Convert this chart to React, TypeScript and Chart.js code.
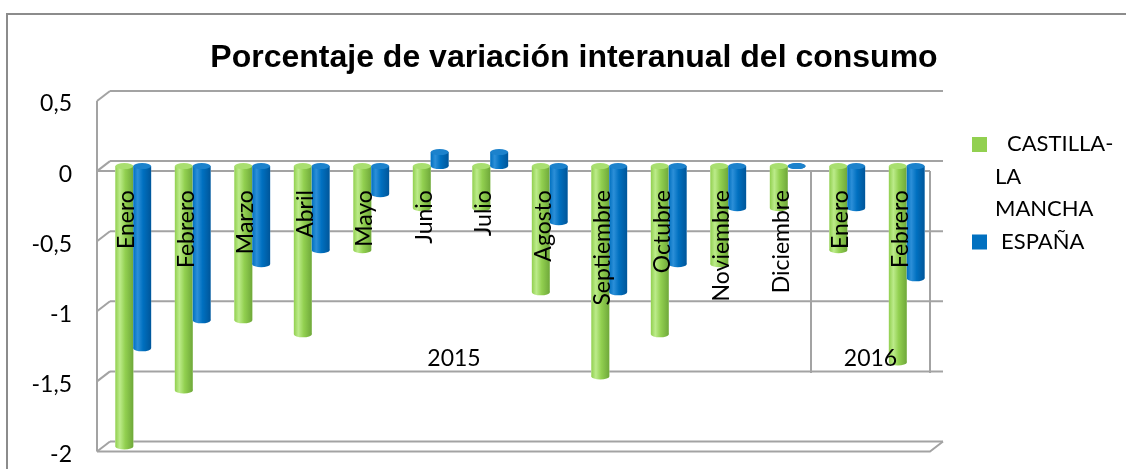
import React, { useEffect, useRef } from "react";
import { Chart, registerables } from "chart.js";

Chart.register(...registerables);

const months = ["Enero", "Febrero", "Marzo", "Abril", "Mayo", "Junio", "Julio", "Agosto", "Septiembre", "Octubre", "Noviembre", "Diciembre", "Enero", "Febrero"];
const years = [
  { label: "2015", start: 0, end: 11 },
  { label: "2016", start: 12, end: 13 },
];
const castillaLaMancha = [-2.0, -1.6, -1.1, -1.2, -0.6, -0.3, -0.3, -0.9, -1.5, -1.2, -0.7, -0.3, -0.6, -1.4];
const espana = [-1.3, -1.1, -0.7, -0.6, -0.2, 0.1, 0.1, -0.4, -0.9, -0.7, -0.3, 0.0, -0.3, -0.8];
const yTicks = [0.5, 0, -0.5, -1, -1.5, -2];
const seriesNames = ["CASTILLA-LA MANCHA", "ESPAÑA"];
const legendLines = [["CASTILLA-", "LA", "MANCHA"], ["ESPAÑA"]];
const titleText = "Porcentaje de variación interanual del consumo";

const W = 1126;
const H = 469;
const DX = 6.5;
const DY = 5;
const GRID = "#A3A3A3";
const FONT = "Lato, 'Open Sans', sans-serif";
const TITLE_FONT = "'Liberation Sans', Arial, sans-serif";

const palettes = [
  { base: "#92D050", light: "#BCEB8A", dark: "#6FA83A", cap: "#A9DF70" },
  { base: "#0070C0", light: "#2C8FD8", dark: "#00569A", cap: "#1C82CC" },
];

const wallsPlugin = {
  id: "walls",
  beforeDatasetsDraw(chart: any) {
    const { ctx, chartArea } = chart;
    const ys = chart.scales.y;
    const xs = chart.scales.x;
    ctx.save();
    ctx.strokeStyle = GRID;
    ctx.lineWidth = 2;
    const L = chartArea.left;
    const R = chartArea.right;
    yTicks.forEach((v) => {
      const m = ys.getPixelForValue(v);
      ctx.beginPath();
      ctx.moveTo(L + DX, m - DY);
      ctx.lineTo(R + DX, m - DY);
      ctx.stroke();
      ctx.beginPath();
      ctx.moveTo(L - DX, m + DY);
      ctx.lineTo(L + DX, m - DY);
      ctx.stroke();
    });
    const top = ys.getPixelForValue(yTicks[0]) + DY;
    const bot = ys.getPixelForValue(yTicks[yTicks.length - 1]) + DY;
    ctx.beginPath();
    ctx.moveTo(L - DX, top);
    ctx.lineTo(L - DX, bot);
    ctx.stroke();
    ctx.beginPath();
    ctx.moveTo(L - DX, bot);
    ctx.lineTo(R - DX, bot);
    ctx.lineTo(R + DX, bot - 2 * DY);
    ctx.stroke();
    const z = ys.getPixelForValue(0) + DY;
    ctx.beginPath();
    ctx.moveTo(L - DX, z);
    ctx.lineTo(R - DX, z);
    ctx.stroke();
    const sepBottom = z + 202;
    years.forEach((g) => {
      const xr = g.end === months.length - 1 ? R - DX : (xs.getPixelForValue(g.end) + xs.getPixelForValue(g.end + 1)) / 2 - DX;
      ctx.beginPath();
      ctx.moveTo(xr, z);
      ctx.lineTo(xr, sepBottom);
      ctx.stroke();
    });
    ctx.restore();
  },
};

const cylinderPlugin = {
  id: "cylinders",
  afterDatasetsDraw(chart: any) {
    const { ctx } = chart;
    ctx.save();
    chart.data.datasets.forEach((ds: any, di: number) => {
      const meta = chart.getDatasetMeta(di);
      const p = palettes[di];
      meta.data.forEach((el: any) => {
        const w = el.width;
        const x0 = el.x - w / 2;
        const top = Math.min(el.y, el.base);
        const bottom = Math.max(el.y, el.base);
        const ry = 3;
        const g = ctx.createLinearGradient(x0, 0, x0 + w, 0);
        g.addColorStop(0, p.base);
        g.addColorStop(0.25, p.light);
        g.addColorStop(0.55, p.base);
        g.addColorStop(1, p.dark);
        ctx.fillStyle = "#ffffff";
        ctx.fillRect(x0, top, w, bottom - top);
        ctx.fillStyle = g;
        ctx.fillRect(x0, top, w, bottom - top);
        ctx.beginPath();
        ctx.ellipse(el.x, bottom, w / 2, ry, 0, 0, Math.PI * 2);
        ctx.fill();
        ctx.beginPath();
        ctx.ellipse(el.x, top, w / 2, ry, 0, 0, Math.PI * 2);
        ctx.fillStyle = p.cap;
        ctx.fill();
      });
    });
    ctx.restore();
  },
};

const labelsPlugin = {
  id: "catLabels",
  afterDatasetsDraw(chart: any) {
    const { ctx, chartArea } = chart;
    const xs = chart.scales.x;
    const ys = chart.scales.y;
    const z = ys.getPixelForValue(0) + DY;
    ctx.save();
    ctx.fillStyle = "#000000";
    ctx.font = `23px ${FONT}`;
    months.forEach((m, i) => {
      const x = xs.getPixelForValue(i) - DX;
      ctx.save();
      ctx.translate(x, z + 19);
      ctx.rotate(-Math.PI / 2);
      ctx.textAlign = "right";
      ctx.textBaseline = "middle";
      ctx.fillText(m, 0, 0);
      ctx.restore();
    });
    ctx.textAlign = "center";
    ctx.textBaseline = "middle";
    years.forEach((g) => {
      const xl = g.start === 0 ? chartArea.left - DX : (xs.getPixelForValue(g.start - 1) + xs.getPixelForValue(g.start)) / 2 - DX;
      const xr = g.end === months.length - 1 ? chartArea.right - DX : (xs.getPixelForValue(g.end) + xs.getPixelForValue(g.end + 1)) / 2 - DX;
      ctx.fillText(g.label, (xl + xr) / 2, z + 187);
    });
    ctx.restore();
  },
};

const framePlugin = {
  id: "frame",
  afterDraw(chart: any) {
    const { ctx } = chart;
    ctx.save();
    ctx.strokeStyle = "#8C8C8C";
    ctx.lineWidth = 2;
    ctx.beginPath();
    ctx.moveTo(7, H);
    ctx.lineTo(7, 14);
    ctx.lineTo(W, 14);
    ctx.stroke();
    // title
    ctx.fillStyle = "#000000";
    ctx.font = `bold 32px ${TITLE_FONT}`;
    ctx.textAlign = "center";
    ctx.textBaseline = "middle";
    ctx.fillText(titleText, 574, 58);
    // legend
    ctx.font = `22px ${FONT}`;
    ctx.textBaseline = "middle";
    ctx.textAlign = "left";
    const lx = 972;
    let y = 144;
    legendLines.forEach((lines, di) => {
      ctx.fillStyle = palettes[di].base;
      ctx.fillRect(lx, y - 7, 15, 15);
      ctx.fillStyle = "#000000";
      lines.forEach((t, li) => {
        const tx = li === 0 ? (di === 0 ? 1007 : 1001) : 995;
        ctx.fillText(t, tx, y);
        y += 32.5;
      });
    });
    ctx.restore();
  },
};

export default function App() {
  const ref = useRef<HTMLCanvasElement | null>(null);
  useEffect(() => {
    if (!ref.current) return;
    Chart.defaults.font.family = FONT;
    const chart = new Chart(ref.current, {
      type: "bar",
      data: {
        labels: months,
        datasets: [
          { label: seriesNames[0], data: castillaLaMancha, backgroundColor: palettes[0].base, borderWidth: 0 },
          { label: seriesNames[1], data: espana, backgroundColor: palettes[1].base, borderWidth: 0 },
        ],
      },
      options: {
        responsive: false,
        animation: false,
        devicePixelRatio: 1,
        layout: { padding: { left: 0, top: 96, right: W - 936.5, bottom: H - 446.5 } },
        datasets: { bar: { categoryPercentage: 0.6, barPercentage: 1.0 } },
        plugins: {
          legend: { display: false },
          tooltip: { enabled: false },
          title: { display: false },
        },
        scales: {
          x: { display: false },
          y: {
            min: -2,
            max: 0.5,
            afterFit: (scale: any) => {
              scale.width = 103.5;
              scale.paddingTop = 0;
              scale.paddingBottom = 0;
            },
            grid: { display: false, drawTicks: false },
            border: { display: false },
            ticks: {
              stepSize: 0.5,
              padding: 31.5,
              labelOffset: 8,
              color: "#000000",
              font: { size: 23, family: FONT },
              callback: (v: any) => String(v).replace(".", ","),
            },
          },
        },
      },
      plugins: [wallsPlugin, cylinderPlugin, labelsPlugin, framePlugin],
    });
    return () => chart.destroy();
  }, []);
  return (
    <div style={{ position: "fixed", left: 0, top: 0, width: W, height: H, background: "#ffffff" }}>
      <canvas ref={ref} width={W} height={H} style={{ width: W, height: H, display: "block" }} />
    </div>
  );
}
